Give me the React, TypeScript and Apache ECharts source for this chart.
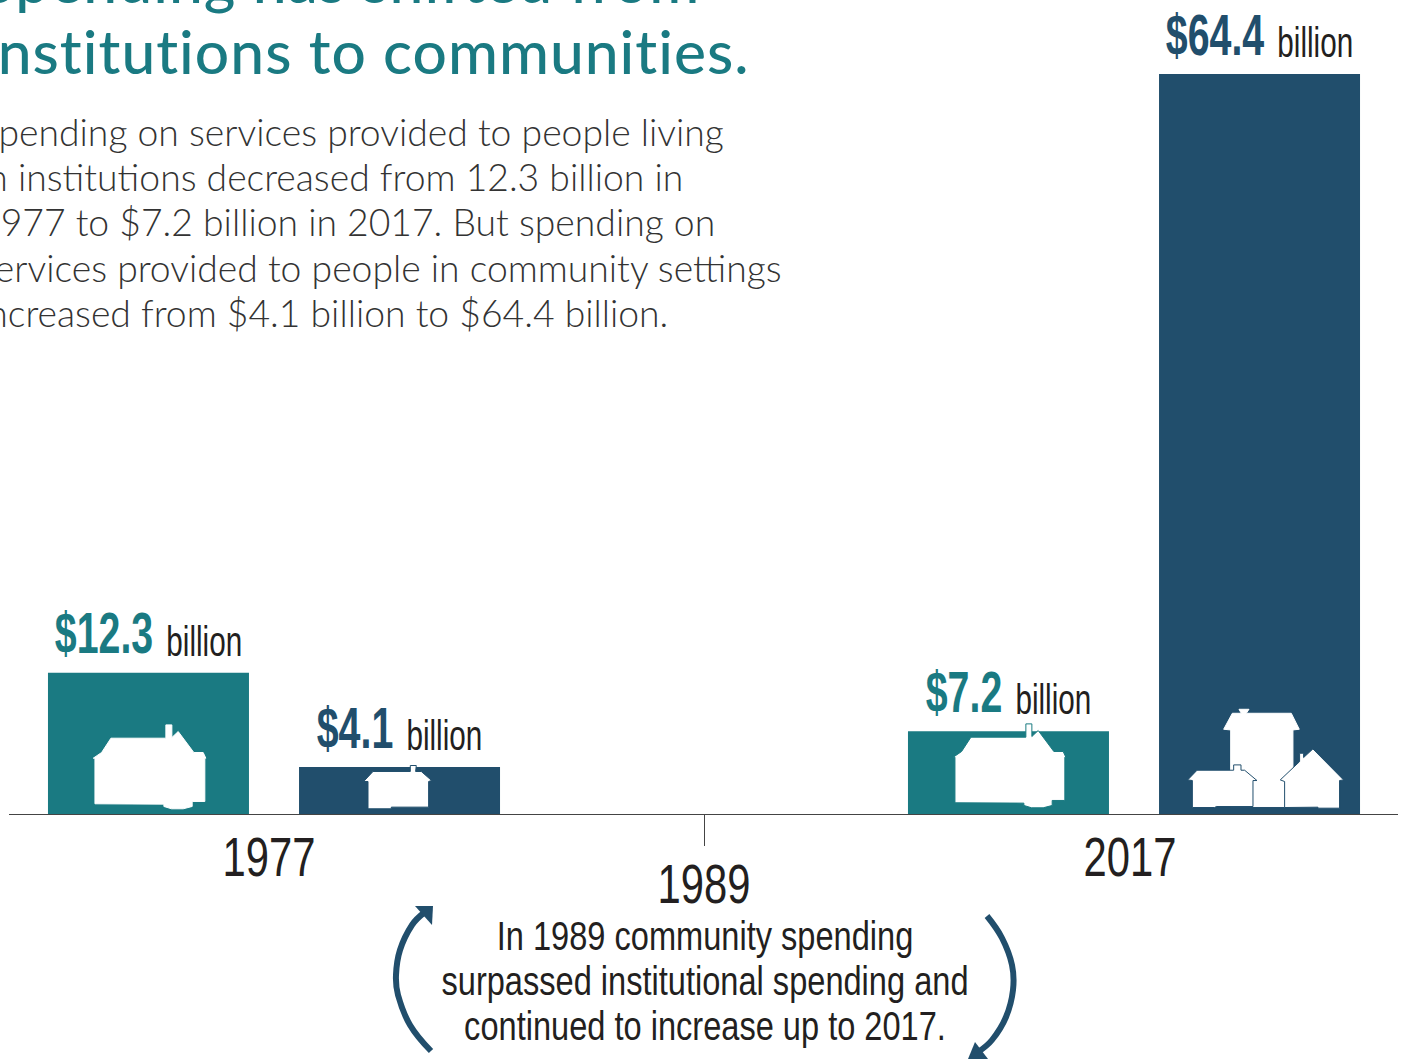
import React, { useEffect, useRef } from "react";
import * as echarts from "echarts";

const years = ["1977", "1989", "2017"];
const institutional = [12.3, null, 7.2];
const community = [4.1, null, 64.4];
const titleLines = ["Spending has shifted from", "institutions to communities."];
const bodyLines = [
  "Spending on services provided to people living",
  "in institutions decreased from 12.3 billion in",
  "1977 to $7.2 billion in 2017. But spending on",
  "services provided to people in community settings",
  "increased from $4.1 billion to $64.4 billion.",
];
const noteLines = [
  "In 1989 community spending",
  "surpassed institutional spending and",
  "continued to increase up to 2017.",
];

const TEAL = "#1a7a82";
const NAVY = "#214e6c";
const INK = "#231f20";
const NARROW = '"Liberation Sans", sans-serif';

const bigHouse = [[165,612],[165,475],[160,475],[185,458],[213,415],[378,415],[378,375],[396,375],[396,413],[415,395],[462,458],[490,458],[498,475],[495,475],[495,605],[457,605],[457,620],[430,627],[395,627],[372,620],[372,613]];
const smallHouse = [[985,627],[985,545],[972,545],[1000,515],[1112,515],[1112,497],[1130,497],[1128,515],[1145,515],[1176,542],[1167,545],[1167,622],[1055,622],[1055,627]];
const tallHouse = [[993,440],[993,210],[972,208],[998,160],[1025,160],[1018,148],[1048,148],[1040,160],[1175,160],[1199,208],[1180,210],[1180,440]];
const leftHouse = [[878,443],[878,362],[864,360],[892,331],[1002,331],[1002,315],[1024,315],[1024,331],[1035,331],[1072,362],[1060,362],[1060,440],[950,440],[945,443]];
const rightHouse = [[1155,443],[1155,365],[1142,360],[1200,305],[1200,280],[1212,280],[1212,293],[1240,267],[1332,360],[1320,362],[1320,445],[1255,445],[1255,442]];

function house(points: number[][], x: number, y: number, stroke?: string) {
  return {
    type: "polygon",
    x,
    y,
    scaleX: 1 / 3,
    scaleY: 1 / 3,
    z: 20,
    shape: { points },
    style: { fill: "#fff", stroke: stroke || "#fff", lineWidth: 3 },
  };
}

function labelRenderer(values: (number | null)[], color: string, dx: number) {
  return (params: any, api: any) => {
    const v = values[params.dataIndex];
    if (v == null) return null;
    const p = api.coord([params.dataIndex, v]);
    return {
      type: "text",
      x: p[0] + dx,
      y: p[1] - 6,
      scaleX: 0.69,
      style: {
        text: `{v|$${v.toFixed(1)}}{b|billion}`,
        align: "center",
        verticalAlign: "bottom",
        rich: {
          v: { font: `bold 57px ${NARROW}`, fill: color, height: 66 },
          b: { font: `43px ${NARROW}`, fill: INK, padding: [15, 0, 0, 19] },
        },
      },
    };
  };
}

const yearDx = [-5, 0, -4];
const yearDy = [70, 97, 70];
function yearRenderer(params: any, api: any) {
  const i = params.dataIndex;
  const p = api.coord([i, 0]);
  return {
    type: "text",
    x: p[0] + yearDx[i],
    y: p[1] + yearDy[i],
    scaleX: 0.76,
    style: { text: years[i], font: `55px ${NARROW}`, fill: INK, align: "center", verticalAlign: "bottom" },
  };
}

export default function App() {
  const ref = useRef<HTMLDivElement>(null);
  useEffect(() => {
    document.body.style.margin = "0";
    const css = document.createElement("style");
    css.textContent = 'text[style*="500 60.5px"]{letter-spacing:1px;font-variant-ligatures:none}';
    document.head.appendChild(css);
    const chart = echarts.init(ref.current!, null, { renderer: "svg" });
    chart.setOption({
      animation: false,
      grid: { left: 59, width: 1290, top: 9.7, height: 804.3 },
      xAxis: {
        type: "category",
        data: years,
        axisLine: { show: false },
        axisTick: {
          show: true,
          interval: (i: number) => i === 1,
          alignWithLabel: true,
          length: 32,
          lineStyle: { color: "#444", width: 1 },
        },
        axisLabel: { show: false },
      },
      yAxis: { type: "value", min: 0, max: 70, show: false },
      series: [
        { type: "bar", name: "Institutional", data: institutional, barWidth: 201, barGap: "24.9%", clip: false, itemStyle: { color: TEAL } },
        { type: "bar", name: "Community", data: community, barWidth: 201, clip: false, itemStyle: { color: NAVY } },
        { type: "custom", data: years.map((_, i) => [i, institutional[i] ?? 0]), renderItem: labelRenderer(institutional, TEAL, -125.5), clip: false, z: 30, silent: true },
        { type: "custom", data: years.map((_, i) => [i, community[i] ?? 0]), renderItem: labelRenderer(community, NAVY, 125.5), clip: false, z: 30, silent: true },
        { type: "custom", data: years.map((_, i) => [i, 0]), renderItem: yearRenderer, clip: false, z: 30, silent: true },
      ],
      graphic: [
        { type: "line", z: -1, shape: { x1: 9, y1: 814.5, x2: 1398, y2: 814.5 }, style: { stroke: "#444", lineWidth: 1 } },
        ...titleLines.map((t, i) => ({
          type: "text",
          x: -18,
          y: i === 0 ? -21 : 50,
          style: { text: t, font: `500 60.5px Lato`, fill: TEAL, verticalAlign: "middle" },
        })),
        ...bodyLines.map((t, i) => ({
          type: "text",
          x: -21,
          y: 131 + i * 45.4,
          style: { text: t, font: `300 37.3px Lato`, fill: "#333333", verticalAlign: "middle" },
        })),
        ...noteLines.map((t, i) => ({
          type: "text",
          x: 705,
          y: 936 + i * 45,
          scaleX: 0.795,
          style: { text: t, font: `41px ${NARROW}`, fill: INK, align: "center", verticalAlign: "middle" },
        })),
        house(bigHouse, 40, 600),
        house(bigHouse, 900, 599, TEAL),
        house(smallHouse, 40, 600, NAVY),
        house(tallHouse, 900, 660),
        house(leftHouse, 900, 660, NAVY),
        house(rightHouse, 900, 660, NAVY),
        { type: "polyline", shape: { points: [[431,1051],[410,1025],[398,995],[396,975],[400,950],[412,925],[425,912]], smooth: 0.4 }, style: { stroke: NAVY, lineWidth: 6, fill: "none" } },
        { type: "polygon", shape: { points: [[415,906],[433,906],[432,925]] }, style: { fill: NAVY } },
        { type: "polyline", shape: { points: [[987,916],[1002,938],[1012,965],[1013,990],[1006,1017],[992,1040],[978,1052]], smooth: 0.4 }, style: { stroke: NAVY, lineWidth: 6, fill: "none" } },
        { type: "polygon", shape: { points: [[968,1059],[988,1059],[975,1042]] }, style: { fill: NAVY } },
      ],
    });
    return () => chart.dispose();
  }, []);
  return <div ref={ref} style={{ width: 1406, height: 1059, background: "#fff", overflow: "hidden" }} />;
}
